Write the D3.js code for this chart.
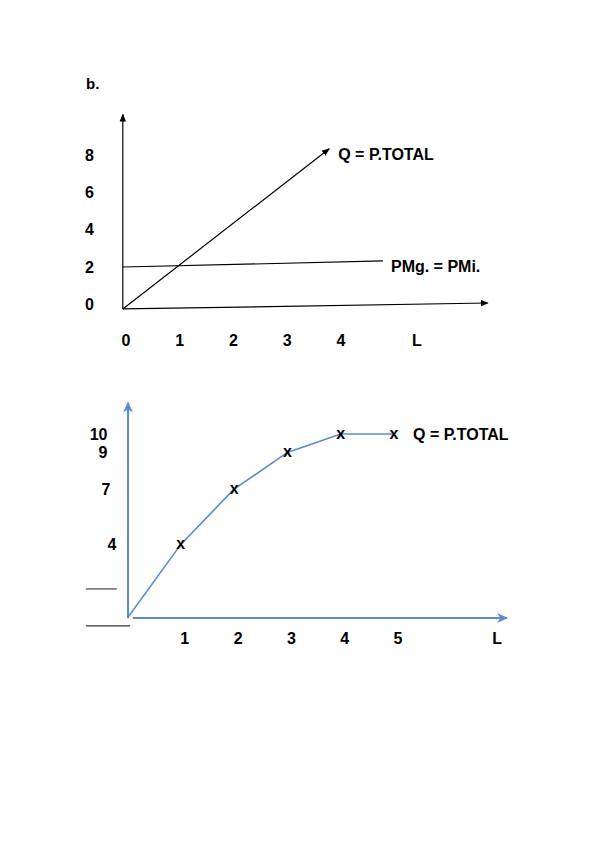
<!DOCTYPE html>
<html>
<head>
<meta charset="utf-8">
<script src="https://cdn.jsdelivr.net/npm/d3@7"></script>
<style>
  html, body { margin: 0; padding: 0; background: #fff; }
  svg { display: block; }
  text { font-family: "Liberation Sans", Arial, sans-serif; font-weight: bold; fill: #000; }
</style>
</head>
<body>
<svg id="chart" width="600" height="848"></svg>
<script>
// ---------- DATA ----------
// Panel b (top): linear total product and constant marginal/average product
const topXTicks = [0, 1, 2, 3, 4];
const topYTicks = [0, 2, 4, 6, 8];
const topQLine = [[-0.05, -0.25], [3.79, 8.35]];     // Q = P.TOTAL
const topPMgLine = [[-0.05, 2.0], [4.79, 2.33]];     // PMg. = PMi.
const topXAxisLine = [[-0.05, -0.25], [6.74, 0.07]];
const topYAxisLine = [[-0.05, -0.25], [-0.05, 10.2]];
const topLabelQ = "Q = P.TOTAL";
const topLabelP = "PMg. = PMi.";
const topXName = "L";
const topXNamePos = 5.42;

// Bottom panel: total product curve
const bottomL = [0, 1, 2, 3, 4, 5];
const bottomQ = [0, 4, 7, 9, 10, 10];
const bottomMarked = [1, 2, 3, 4, 5];
const bottomXTicks = [1, 2, 3, 4, 5];
const bottomYTicks = [4, 7, 9, 10];
const bottomXAxisLine = [[0.1, 0], [7.12, 0]];
const bottomYAxisLine = [[0.01, 0], [0.01, 11.7]];
const bottomDashes = [[[-0.78, 1.58], [-0.2, 1.58]], [[-0.78, -0.43], [0.05, -0.43]]];
const bottomLabelQ = "Q = P.TOTAL";
const bottomXName = "L";
const bottomXNamePos = 6.87;
const panelTitle = "b.";

// ---------- DRAW ----------
const svg = d3.select("#chart");
const blue = "#5b8bcb";
const FONT = "'Liberation Sans', Arial, sans-serif";

const defs = svg.append("defs");
defs.append("marker").attr("id", "arrBlack")
  .attr("viewBox", "0 0 10 10").attr("refX", 9).attr("refY", 5)
  .attr("markerWidth", 8).attr("markerHeight", 8).attr("markerUnits", "userSpaceOnUse")
  .attr("orient", "auto")
  .append("path").attr("d", "M0,1 L10,5 L0,9 Z").attr("fill", "#000");
defs.append("marker").attr("id", "arrBlue")
  .attr("viewBox", "0 0 10 10").attr("refX", 9).attr("refY", 5)
  .attr("markerWidth", 11).attr("markerHeight", 11).attr("markerUnits", "userSpaceOnUse")
  .attr("orient", "auto")
  .append("path").attr("d", "M0,0.5 L10,5 L0,9.5 L3,5 Z").attr("fill", blue);

svg.append("text").attr("x", 86).attr("y", 88.5).style("font-size", "15px").text(panelTitle);

function styleAxis(a) {
  a.select(".domain").remove();
  a.attr("font-size", null).attr("font-family", null);
  a.selectAll("text").style("font-size", "16px").style("font-family", FONT)
    .style("font-weight", "bold").attr("fill", "#000");
}

// --- top panel ---
const xT = d3.scaleLinear().domain([0, 4]).range([125.5, 340.5]);
const yT = d3.scaleLinear().domain([0, 8]).range([304.3, 155.3]);
const lineT = d3.line().x(d => xT(d[0])).y(d => yT(d[1]));

const gTop = svg.append("g");
gTop.append("path").attr("d", lineT(topYAxisLine)).attr("stroke", "#000").attr("stroke-width", 1.2)
  .attr("fill", "none").attr("marker-end", "url(#arrBlack)");
gTop.append("path").attr("d", lineT(topXAxisLine)).attr("stroke", "#000").attr("stroke-width", 1.2)
  .attr("fill", "none").attr("marker-end", "url(#arrBlack)");
gTop.append("path").attr("d", lineT(topPMgLine)).attr("stroke", "#000").attr("stroke-width", 1.1)
  .attr("fill", "none");
gTop.append("path").attr("d", lineT(topQLine)).attr("stroke", "#000").attr("stroke-width", 1.2)
  .attr("fill", "none").attr("marker-end", "url(#arrBlack)");

const axTopX = gTop.append("g").attr("transform", "translate(0,334.4)")
  .call(d3.axisBottom(xT).tickValues(topXTicks).tickSize(0).tickPadding(0).tickFormat(d3.format("d")));
const axTopY = gTop.append("g").attr("transform", "translate(93.8,0)")
  .call(d3.axisLeft(yT).tickValues(topYTicks).tickSize(0).tickPadding(0).tickFormat(d3.format("d")));
styleAxis(axTopX);
styleAxis(axTopY);
gTop.append("text").attr("x", xT(topXNamePos)).attr("y", 345.7).attr("text-anchor", "middle")
  .style("font-size", "16px").text(topXName);
gTop.append("text").attr("x", xT(topQLine[1][0]) + 9).attr("y", yT(topQLine[1][1]) + 11)
  .style("font-size", "16px").text(topLabelQ);
gTop.append("text").attr("x", xT(topPMgLine[1][0]) + 8).attr("y", yT(topPMgLine[1][1]) + 11.5)
  .style("font-size", "16px").text(topLabelP);

// --- bottom panel ---
const xB = d3.scaleLinear().domain([0, 5]).range([127.5, 394]);
const yB = d3.scaleLinear().domain([0, 10]).range([618, 434]);
const lineB = d3.line().x(d => xB(d[0])).y(d => yB(d[1]));

const gBot = svg.append("g");
bottomDashes.forEach(seg => {
  gBot.append("path").attr("d", lineB(seg)).attr("stroke", "#333").attr("stroke-width", 1.1).attr("fill", "none");
});
gBot.append("path").attr("d", lineB(bottomYAxisLine)).attr("stroke", blue).attr("stroke-width", 2)
  .attr("fill", "none").attr("marker-end", "url(#arrBlue)");
gBot.append("path").attr("d", lineB(bottomXAxisLine)).attr("stroke", blue).attr("stroke-width", 2)
  .attr("fill", "none").attr("marker-end", "url(#arrBlue)");

const pts = bottomL.map((l, i) => [l, bottomQ[i]]);
gBot.append("path").attr("d", lineB(pts)).attr("stroke", blue).attr("stroke-width", 1.6).attr("fill", "none");

gBot.selectAll("text.mark").data(pts.filter(p => bottomMarked.includes(p[0])))
  .enter().append("text").attr("class", "mark")
  .attr("x", d => xB(d[0])).attr("y", d => yB(d[1]) + 4.5)
  .attr("text-anchor", "middle").style("font-size", "16px").text("x");

const axBotX = gBot.append("g").attr("transform", "translate(3.5,632.4)")
  .call(d3.axisBottom(xB).tickValues(bottomXTicks).tickSize(0).tickPadding(0).tickFormat(d3.format("d")));
const yLabelDx = {10: 107.5, 9: 107.5, 7: 110.5, 4: 116.5};
const axBotY = gBot.append("g")
  .call(d3.axisLeft(yB).tickValues(bottomYTicks).tickSize(0).tickPadding(0).tickFormat(d3.format("d")));
axBotY.selectAll(".tick text").attr("x", d => yLabelDx[d]);
styleAxis(axBotX);
styleAxis(axBotY);
gBot.append("text").attr("x", xB(bottomXNamePos) + 3.5).attr("y", 643.7).attr("text-anchor", "middle")
  .style("font-size", "16px").text(bottomXName);
gBot.append("text").attr("x", xB(5) + 19).attr("y", yB(10) + 5.5)
  .style("font-size", "16px").text(bottomLabelQ);
</script>
</body>
</html>
